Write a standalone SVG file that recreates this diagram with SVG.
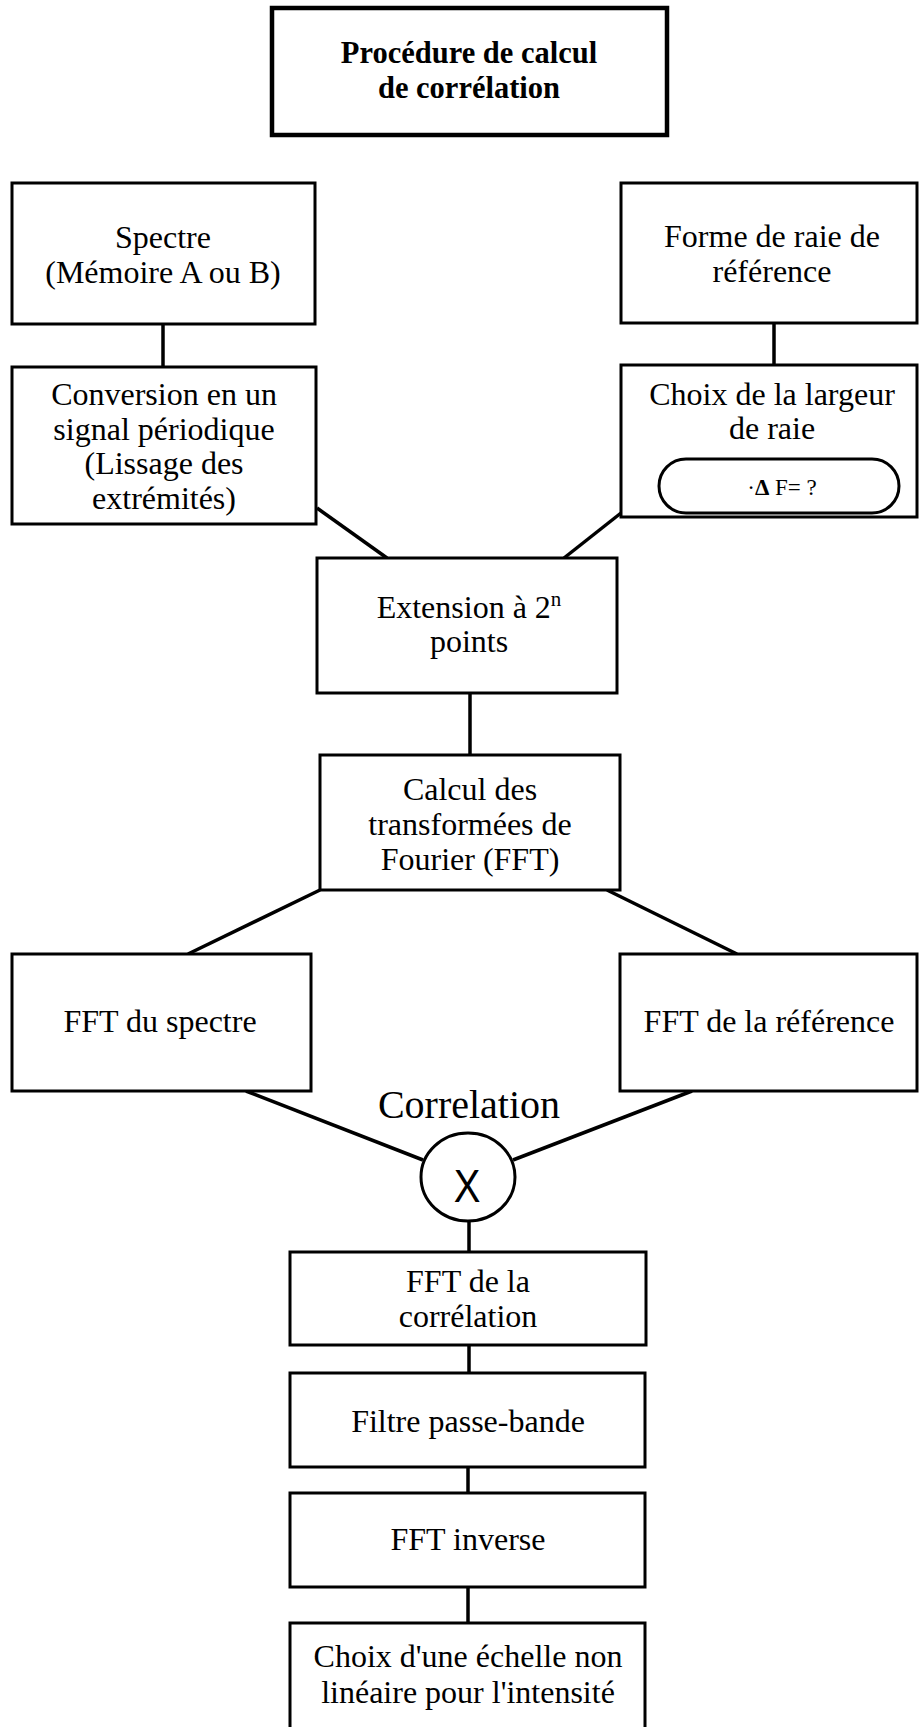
<svg xmlns="http://www.w3.org/2000/svg" width="919" height="1727" viewBox="0 0 919 1727">
  <style>
    .box { fill: #fff; stroke: #000; stroke-width: 3; }
    .title-box { fill: #fff; stroke: #000; stroke-width: 4.5; }
    .link { stroke: #000; stroke-width: 3.5; fill: none; }
    .lbl { font-family: "Liberation Serif", "Times New Roman", serif; font-size: 32px; fill: #000; text-anchor: middle; }
    .ttl { font-family: "Liberation Serif", "Times New Roman", serif; font-size: 30.5px; font-weight: bold; fill: #000; text-anchor: middle; }
  </style>
  <rect width="919" height="1727" fill="#fff"/>

  <!-- connectors -->
  <g id="connectors">
    <line class="link" x1="163" y1="324" x2="163" y2="367"/>
    <line class="link" x1="774" y1="323" x2="774" y2="365"/>
    <line class="link" x1="317" y1="508" x2="387" y2="558"/>
    <line class="link" x1="621" y1="513" x2="564" y2="558"/>
    <line class="link" x1="470" y1="693" x2="470" y2="755"/>
    <line class="link" x1="320" y1="890" x2="188" y2="954"/>
    <line class="link" x1="607" y1="890" x2="737" y2="954"/>
    <line class="link" x1="246" y1="1091" x2="423" y2="1160"/>
    <line class="link" x1="692" y1="1091" x2="513" y2="1160"/>
    <line class="link" x1="469" y1="1221" x2="469" y2="1252"/>
    <line class="link" x1="469" y1="1345" x2="469" y2="1373"/>
    <line class="link" x1="468" y1="1467" x2="468" y2="1493"/>
    <line class="link" x1="468" y1="1587" x2="468" y2="1623"/>
  </g>

  <g id="title">
    <rect class="title-box" x="272" y="8" width="395" height="127"/>
    <text class="ttl" x="469" y="63">Procédure de calcul</text>
    <text class="ttl" x="469" y="98">de corrélation</text>
  </g>

  <g id="spectre">
    <rect class="box" x="12" y="183" width="303" height="141"/>
    <text class="lbl" x="163" y="248">Spectre</text>
    <text class="lbl" x="163" y="283">(Mémoire A ou B)</text>
  </g>

  <g id="forme">
    <rect class="box" x="621" y="183" width="296" height="140"/>
    <text class="lbl" x="772" y="247">Forme de raie de</text>
    <text class="lbl" x="772" y="282">référence</text>
  </g>

  <g id="conversion">
    <rect class="box" x="12" y="367" width="304" height="157"/>
    <text class="lbl" x="164" y="405">Conversion en un</text>
    <text class="lbl" x="164" y="440">signal périodique</text>
    <text class="lbl" x="164" y="474">(Lissage des</text>
    <text class="lbl" x="164" y="509">extrémités)</text>
  </g>

  <g id="choix-largeur">
    <rect class="box" x="621" y="365" width="296" height="152"/>
    <text class="lbl" x="772" y="405">Choix de la largeur</text>
    <text class="lbl" x="772" y="439">de raie</text>
    <rect class="box" x="659" y="459" width="240" height="54" rx="27" ry="27"/>
    <text class="lbl" x="782" y="495" style="font-size:23px">·<tspan font-weight="bold">Δ</tspan> F= ?</text>
  </g>

  <g id="extension">
    <rect class="box" x="317" y="558" width="300" height="135"/>
    <text class="lbl" x="469" y="618">Extension à 2<tspan dy="-12" style="font-size:21px">n</tspan></text>
    <text class="lbl" x="469" y="652">points</text>
  </g>

  <g id="calcul-fft">
    <rect class="box" x="320" y="755" width="300" height="135"/>
    <text class="lbl" x="470" y="800">Calcul des</text>
    <text class="lbl" x="470" y="835">transformées de</text>
    <text class="lbl" x="470" y="870">Fourier (FFT)</text>
  </g>

  <g id="fft-spectre">
    <rect class="box" x="12" y="954" width="299" height="137"/>
    <text class="lbl" x="160" y="1032">FFT du spectre</text>
  </g>

  <g id="fft-reference">
    <rect class="box" x="620" y="954" width="297" height="137"/>
    <text class="lbl" x="769" y="1032">FFT de la référence</text>
  </g>

  <g id="correlation">
    <text class="lbl" x="469" y="1118" style="font-size:40px">Correlation</text>
    <ellipse class="box" cx="468" cy="1177" rx="47" ry="44"/>
    <text x="467" y="1197" text-anchor="middle" font-family="Liberation Sans, Arial, sans-serif" font-size="40" transform="translate(0,-198) scale(1,1.17)">X</text>
  </g>

  <g id="fft-correlation">
    <rect class="box" x="290" y="1252" width="356" height="93"/>
    <text class="lbl" x="468" y="1292">FFT de la</text>
    <text class="lbl" x="468" y="1327">corrélation</text>
  </g>

  <g id="filtre">
    <rect class="box" x="290" y="1373" width="355" height="94"/>
    <text class="lbl" x="468" y="1432">Filtre passe-bande</text>
  </g>

  <g id="fft-inverse">
    <rect class="box" x="290" y="1493" width="355" height="94"/>
    <text class="lbl" x="468" y="1550">FFT inverse</text>
  </g>

  <g id="echelle">
    <rect class="box" x="290" y="1623" width="355" height="130"/>
    <text class="lbl" x="468" y="1667">Choix d'une échelle non</text>
    <text class="lbl" x="468" y="1703">linéaire pour l'intensité</text>
  </g>
</svg>
